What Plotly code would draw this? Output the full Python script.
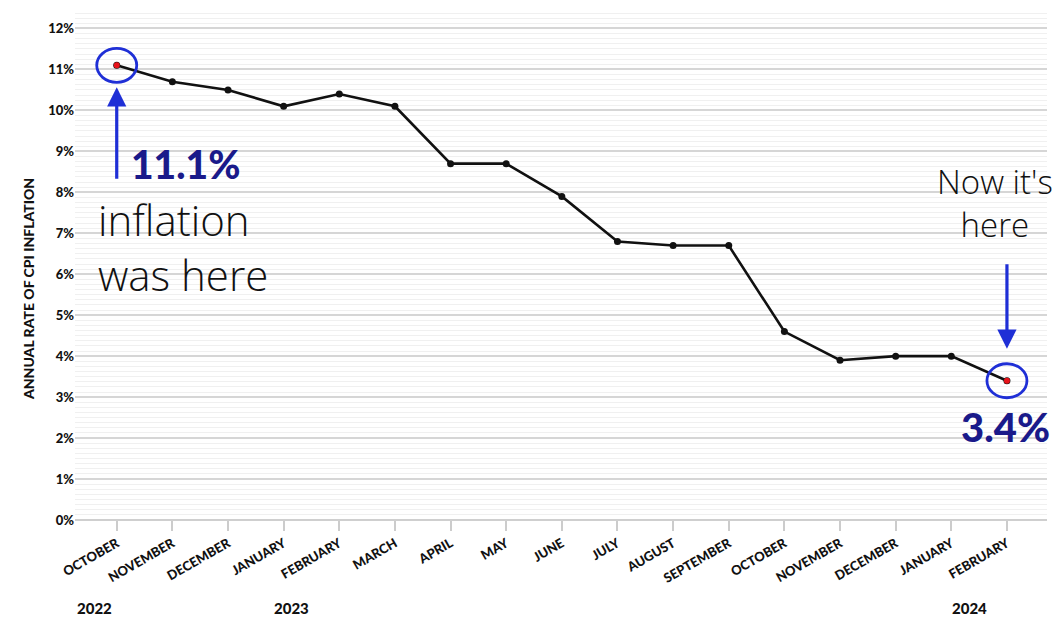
import plotly.graph_objects as go

months = ["OCTOBER", "NOVEMBER", "DECEMBER", "JANUARY", "FEBRUARY", "MARCH", "APRIL",
          "MAY", "JUNE", "JULY", "AUGUST", "SEPTEMBER", "OCTOBER", "NOVEMBER",
          "DECEMBER", "JANUARY", "FEBRUARY"]
cpi = [11.1, 10.7, 10.5, 10.1, 10.4, 10.1, 8.7, 8.7, 7.9, 6.8, 6.7, 6.7, 4.6, 3.9, 4.0, 4.0, 3.4]
year_labels = ["2022", "2023", "2024"]
year_positions = [0, 3, 16]
y_ticks = list(range(0, 13))
y_ticktext = [f"{v}%" for v in y_ticks]

x = list(range(len(months)))
BLUE = "#1f2fd6"
NAVY = "#1a1a8a"
TICKFONT = dict(family="Lato", size=13, color="#111", weight=900)

fig = go.Figure()
fig.add_trace(go.Scatter(
    x=x, y=cpi, mode="lines+markers",
    line=dict(color="#111111", width=2.6),
    marker=dict(color="#111111", size=7),
    hoverinfo="skip", showlegend=False,
))
fig.add_trace(go.Scatter(
    x=[x[0], x[-1]], y=[cpi[0], cpi[-1]], mode="markers",
    marker=dict(color="#e8141b", size=6),
    hoverinfo="skip", showlegend=False,
))

# circles around the endpoints
for xi, yi in [(x[0], cpi[0]), (x[-1], cpi[-1])]:
    fig.add_shape(type="circle", xref="x", yref="y", xsizemode="pixel", ysizemode="pixel",
                  xanchor=xi, yanchor=yi, x0=-20, x1=20, y0=-17, y1=17,
                  line=dict(color=BLUE, width=2.8))

# arrows
fig.add_annotation(x=x[0], y=cpi[0], xref="x", yref="y", ax=0, ay=115, text="",
                   showarrow=True, arrowhead=2, arrowsize=1.2, arrowwidth=3.2,
                   arrowcolor=BLUE, standoff=22)
fig.add_annotation(x=x[-1], y=cpi[-1], xref="x", yref="y", ax=0, ay=-118, text="",
                   showarrow=True, arrowhead=2, arrowsize=1.2, arrowwidth=3.2,
                   arrowcolor=BLUE, standoff=32)

# value labels
fig.add_annotation(x=x[0], y=cpi[0], xref="x", yref="y", xshift=69, yshift=-99,
                   text="11.1%", showarrow=False,
                   font=dict(family="Lato", size=39, color=NAVY, weight=900))
fig.add_annotation(x=x[-1], y=cpi[-1], xref="x", yref="y", xshift=-1, yshift=-46,
                   text="3.4%", showarrow=False,
                   font=dict(family="Lato", size=40, color=NAVY, weight=900))

# handwritten notes
fig.add_annotation(x=x[0], y=cpi[0], xref="x", yref="y", xshift=66, yshift=-182,
                   text="inflation<br>was here", showarrow=False, align="left",
                   font=dict(family="Open Sans", size=42, color="#111", weight=300))
fig.add_annotation(x=x[-1], y=cpi[-1], xref="x", yref="y", xshift=-12, yshift=178,
                   text="Now it's<br>here", showarrow=False, align="center",
                   font=dict(family="Open Sans", size=33, color="#111", weight=300))

# year labels
year_shifts = [-22, 8, -37]
for lbl, pos, sh in zip(year_labels, year_positions, year_shifts):
    fig.add_annotation(x=pos, y=0, xref="x", yref="paper", xshift=sh, yshift=-88,
                       yanchor="middle", text=lbl, showarrow=False,
                       font=dict(family="Lato", size=15, color="#111", weight=900))

# y-axis title
fig.add_annotation(x=0, y=0.45, xref="paper", yref="paper", xshift=-57,
                   text="ANNUAL RATE OF CPI INFLATION", textangle=-90, showarrow=False,
                   font=dict(family="Lato", size=14, color="#111", weight=900))

fig.update_layout(
    width=1053, height=614,
    margin=dict(l=67, r=14, t=0, b=102),
    paper_bgcolor="white", plot_bgcolor="white",
    xaxis=dict(
        range=[-0.75, 16.72], tickvals=x, ticktext=months, tickangle=-30,
        showgrid=False, zeroline=False, showline=False,
        ticks="outside", ticklen=10, tickcolor="#cccccc", tickwidth=1.5,
        tickfont=dict(family="Lato", size=13, color="#111", weight=900),
    ),
    yaxis=dict(
        range=[0, 12.5], tickvals=y_ticks, ticktext=y_ticktext,
        showgrid=True, gridcolor="#d6d6d6", gridwidth=1.5,
        zeroline=True, zerolinecolor="#cfcfcf", zerolinewidth=1.5,
        showline=False, ticks="", tickfont=TICKFONT,
        minor=dict(dtick=0.125, showgrid=True, gridcolor="#f0f0f0", gridwidth=1),
    ),
)

fig.write_html("out.html")
